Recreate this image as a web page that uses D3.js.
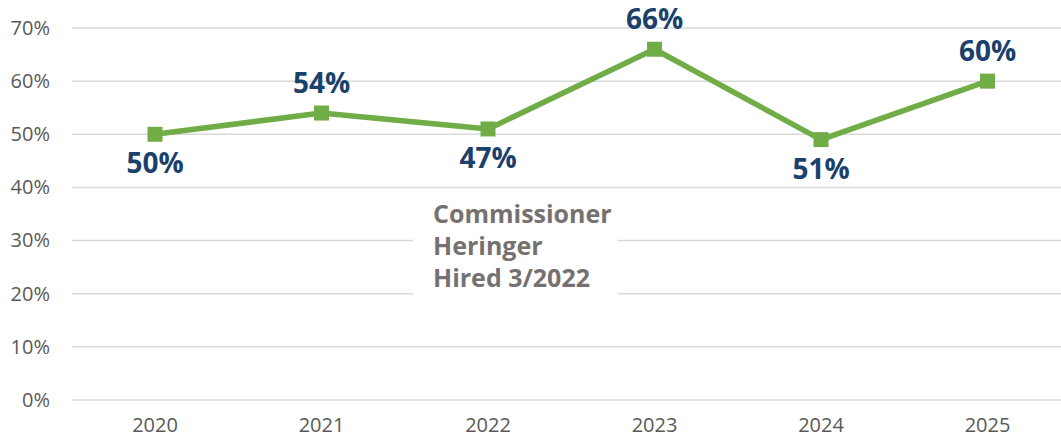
<!DOCTYPE html>
<html><head><meta charset="utf-8">
<script src="https://cdn.jsdelivr.net/npm/d3@7"></script>
<style>body{margin:0;background:#fff}svg{display:block}</style>
</head><body>
<svg id="c" width="1061" height="444"></svg>
<script>
const years = ["2020","2021","2022","2023","2024","2025"];
const values = [0.50, 0.54, 0.51, 0.66, 0.49, 0.60];
const labels = ["50%","54%","47%","66%","51%","60%"];
const labelPos = ["below","above","below","above","below","above"];
const yTicks = [0,0.1,0.2,0.3,0.4,0.5,0.6,0.7];
const noteLines = ["Commissioner","Heringer","Hired 3/2022"];

const svg = d3.select("#c");
const font = "'Open Sans', sans-serif";
const x = d3.scaleBand().domain(years).range([71.75, 1070.75]);
const y = d3.scaleLinear().domain([0,0.7]).range([400, 28]);

// grid
svg.append("g").selectAll("line").data(yTicks).join("line")
  .attr("x1",72).attr("x2",1071).attr("y1",d=>y(d)).attr("y2",d=>y(d))
  .attr("stroke","#d9d9d9").attr("stroke-width",1.5);

// y axis labels
const yAxis = d3.axisLeft(y).tickValues(yTicks).tickFormat(d3.format(".0%")).tickSize(0).tickPadding(0);
const ga = svg.append("g").attr("transform","translate(50,0)").call(yAxis);
ga.select(".domain").remove();
ga.selectAll("text").attr("font-family",font).attr("font-size",20).attr("fill","#595959");

// x axis labels
const xAxis = d3.axisBottom(x).tickSize(0).tickPadding(0);
const gx = svg.append("g").attr("transform","translate(0,418)").call(xAxis);
gx.select(".domain").remove();
gx.selectAll("text").attr("font-family",font).attr("font-size",20).attr("fill","#595959");

// annotation box
svg.append("rect").attr("x",413).attr("y",196).attr("width",205).attr("height",100).attr("fill","#fff");
svg.append("g").selectAll("text").data(noteLines).join("text")
  .attr("x",433).attr("y",(d,i)=>223+i*32)
  .attr("font-family",font).attr("font-weight",700).attr("font-size",25)
  .attr("fill","#767171").text(d=>d);

// line
const cx = (d,i)=>x(years[i])+x.bandwidth()/2;
svg.append("path").datum(values)
  .attr("d", d3.line().x(cx).y(d=>y(d)))
  .attr("fill","none").attr("stroke","#70AD47").attr("stroke-width",5.5).attr("stroke-linejoin","round");
svg.append("g").selectAll("rect").data(values).join("rect")
  .attr("x",(d,i)=>cx(d,i)-7.5).attr("y",d=>y(d)-7.5).attr("width",15).attr("height",15)
  .attr("fill","#70AD47");

// data labels
svg.append("g").selectAll("text").data(values).join("text")
  .attr("x",cx).attr("y",(d,i)=> labelPos[i]==="above" ? y(d)-20 : y(d)+39)
  .attr("text-anchor","middle")
  .attr("font-family",font).attr("font-weight",700).attr("font-size",28)
  .attr("fill","#1A416C").text((d,i)=>labels[i]);
</script>
</body></html>
